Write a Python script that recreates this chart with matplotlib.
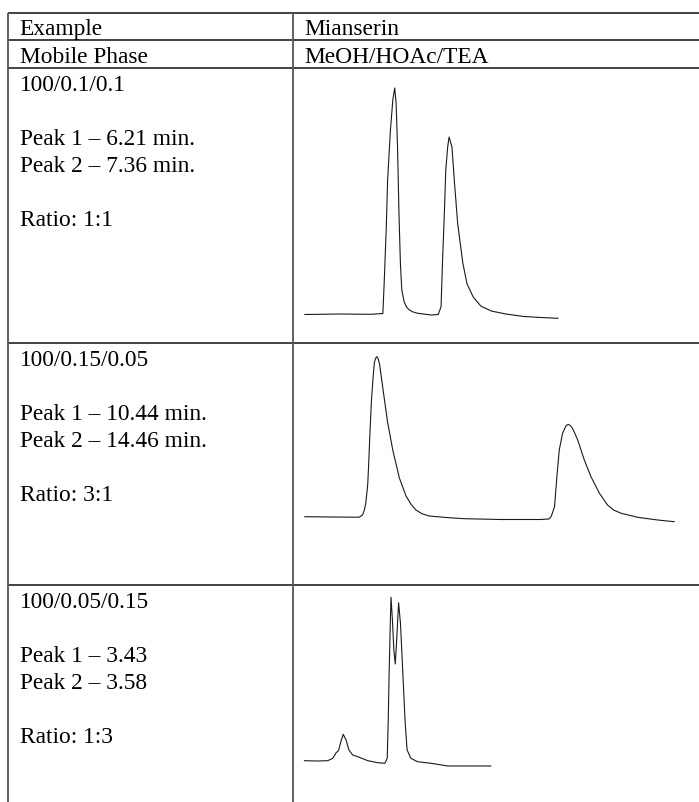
import matplotlib.pyplot as plt

plt.rcParams['font.family'] = ['Liberation Serif', 'DejaVu Serif']

# Tabellentexte
HEADER = ['Example', 'Mianserin']
PHASE_ROW = ['Mobile Phase', 'MeOH/HOAc/TEA']
CONDITIONS = ['100/0.1/0.1', '100/0.15/0.05', '100/0.05/0.15']
PEAK1 = ['Peak 1 – 6.21 min.', 'Peak 1 – 10.44 min.', 'Peak 1 – 3.43']
PEAK2 = ['Peak 2 – 7.36 min.', 'Peak 2 – 14.46 min.', 'Peak 2 – 3.58']
RATIOS = ['Ratio: 1:1', 'Ratio: 3:1', 'Ratio: 1:3']

# Chromatogramme: Zeit (min) und Signal
t_run1 = [4.31, 5.07, 5.71, 5.96, 5.99, 6.03, 6.06, 6.12, 6.17, 6.21, 6.24, 6.27, 6.30, 6.33,
          6.36, 6.41, 6.46, 6.52, 6.60, 6.70, 6.98, 7.13, 7.19, 7.22, 7.26, 7.29, 7.33, 7.36,
          7.42, 7.47, 7.54, 7.65, 7.74, 7.87, 8.03, 8.25, 8.56, 8.94, 9.30, 9.66]
s_run1 = [0, 0.5, 0.2, 1, 34.5, 84.5, 134.5, 184.5, 214.5, 226.5, 211.5, 167.5, 101.5, 51.5,
          24.5, 12.5, 7.5, 4.5, 2.5, 1.2, -0.5, 0, 7.8, 51.5, 101.5, 144.5, 167.5, 177.5,
          167.5, 134.5, 91.5, 51.5, 30.5, 17.5, 8.5, 3.5, 0.5, -2, -3, -3.8]

t_run2 = [8.92, 9.47, 10.07, 10.14, 10.18, 10.21, 10.25, 10.27, 10.30, 10.33, 10.36, 10.39,
          10.415, 10.44, 10.47, 10.50, 10.57, 10.62, 10.67, 10.78, 10.92, 11.06, 11.17, 11.27,
          11.40, 11.55, 11.91, 12.29, 13.07, 13.91, 14.08, 14.13, 14.20, 14.25, 14.30, 14.37,
          14.44, 14.49, 14.54, 14.58, 14.63, 14.69, 14.83, 14.97, 15.15, 15.32, 15.45, 15.61,
          15.96, 16.38, 16.73]
s_run2 = [0.3, 0, -0.2, 2, 7, 14, 32, 52, 87, 117, 137, 154,
          158.5, 160.3, 158.5, 153, 129, 112, 95, 67, 39, 21, 12.5, 7,
          3.2, 1, -0.5, -1.7, -2.5, -2.5, -2, 0.5, 10.3, 40.3, 67, 83.7,
          91, 92.7, 91.2, 88.7, 83.5, 77, 57, 40.3, 23.7, 12, 7, 3.7,
          -0.3, -3, -4.7]

t_run3 = [1.60, 1.88, 2.09, 2.20, 2.27, 2.32, 2.37, 2.42, 2.48, 2.54, 2.62, 2.73, 2.78, 2.94,
          3.15, 3.30, 3.35, 3.37, 3.39, 3.415, 3.43, 3.46, 3.49, 3.52, 3.55, 3.59, 3.63, 3.68,
          3.73, 3.77, 3.85, 3.99, 4.28, 4.63, 5.54]
s_run3 = [0.3, 0, 0.3, 2.7, 8.3, 10.3, 19.3, 26.7, 21, 11, 6, 4.3, 3.3, 0.3,
          -1.7, -2.3, 2.7, 37.7, 87.7, 137.7, 163.7, 141, 111, 97, 121, 158.3, 137.7, 87.7,
          37.7, 11, 2.7, -0.7, -2.3, -5, -5]

RUNS = [(t_run1, s_run1), (t_run2, s_run2), (t_run3, s_run3)]

# Layout in Pixeln
W, H = 699, 802
LEFT_X = 7.5
MID_X = 293
TOP_Y = 12.5
HEADER_LINES = [12.5, 40, 68]
ROW_TOPS = [68, 343, 585]
ROW_BOTTOMS = [343, 585, 802]
PAD_X = 12
BASE_OFF = 22.7
LINE_H = 27
FS = 16.8
PX_PER_MIN = 47.3
T_LEFT = [4.081, 8.692, 1.379]  # Zeit am linken Rand der Zelle
S_BOTTOM = [-28.5, -68, -41]  # Signal am unteren Rand der Zelle


def main() -> None:
    fig = plt.figure(figsize=(W / 100, H / 100), dpi=100)
    ax = fig.add_axes([0, 0, 1, 1])
    ax.set_xlim(0, W)
    ax.set_ylim(H, 0)
    ax.axis('off')

    # Tabellenlinien
    ax.hlines(HEADER_LINES + ROW_TOPS[1:], LEFT_X, W, color='#222222', linewidth=1.2)
    ax.vlines([LEFT_X, MID_X], TOP_Y, H, color='#555555', linewidth=1.3)

    # Kopfzeilen
    for top, (left_text, right_text) in zip(HEADER_LINES[:2], [HEADER, PHASE_ROW]):
        ax.text(LEFT_X + PAD_X, top + BASE_OFF, left_text, fontsize=FS, va='baseline')
        ax.text(MID_X + PAD_X - 1, top + BASE_OFF, right_text, fontsize=FS, va='baseline')

    # Zeilen mit Bedingungen und Chromatogrammen
    for i, top in enumerate(ROW_TOPS):
        lines = [CONDITIONS[i], '', PEAK1[i], PEAK2[i], '', RATIOS[i]]
        for k, line in enumerate(lines):
            if line:
                ax.text(LEFT_X + PAD_X, top + BASE_OFF + k * LINE_H, line, fontsize=FS, va='baseline')

        bottom = ROW_BOTTOMS[i]
        cell = fig.add_axes([(MID_X + 1) / W, 1 - bottom / H, (W - MID_X - 1) / W, (bottom - top) / H])
        cell.set_xlim(T_LEFT[i], T_LEFT[i] + (W - MID_X - 1) / PX_PER_MIN)
        cell.set_ylim(S_BOTTOM[i], S_BOTTOM[i] + (bottom - top))
        cell.axis('off')
        cell.patch.set_alpha(0)
        t, s = RUNS[i]
        cell.plot(t, s, color='#1a1a1a', linewidth=0.8)

    fig.savefig('out.png', dpi=100)


if __name__ == '__main__':
    main()
